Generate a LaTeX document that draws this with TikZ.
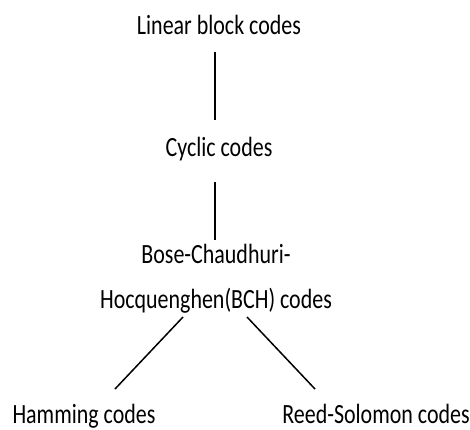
\documentclass[tikz,border=0pt]{standalone}
\usepackage{fontspec}
\setmainfont{Carlito}[FakeStretch=0.79]
\usetikzlibrary{positioning,calc}

\begin{document}
\begin{tikzpicture}[x=1pt, y=-1pt,
    codename/.style={font=\fontsize{27.8}{45}\selectfont, inner sep=0pt, anchor=base, align=center},
    link/.style={line width=1.5pt}]
    \useasboundingbox (0,0) rectangle (470,429);
    % family tree of the codes
    \node[codename] (lin) at (219,34) {Linear block codes};
    \node[codename] (cyc) at (219,156) {Cyclic codes};
    \node[codename] (bch) at (216,308) {Bose-Chaudhuri-\\Hocquenghen(BCH) codes};
    \node[codename] (ham) at (84,423) {Hamming codes};
    \node[codename] (rs) at (376,423) {Reed-Solomon codes};
    % connectors
    \draw[link] ($(lin.base -| bch.base)+(-1,18)$) -- ($(cyc.base -| bch.base)+(-1,-36)$);
    \draw[link] ($(cyc.base -| bch.base)+(-1,26)$) -- ($(bch.base)+(-1,-68)$);
    \draw[link] ($(bch.base)+(-33,9)$) -- ($(ham.base)+(31,-34)$);
    \draw[link] ($(bch.base)+(31,9)$) -- ($(rs.base)+(-61,-34)$);
\end{tikzpicture}
\end{document}
